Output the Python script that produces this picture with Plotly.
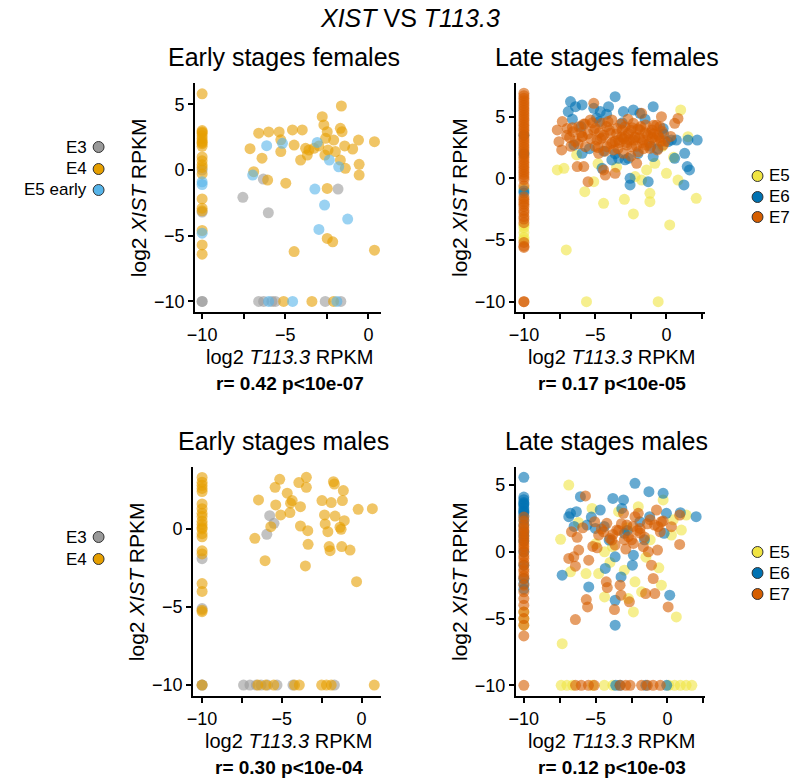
import plotly.graph_objects as go

W, H = 811, 783
FONT = "Liberation Sans, Arial, sans-serif"

COL = {"E3": "#999999", "E4": "#E69F00", "E5 early": "#56B4E9",
       "E5": "#F0E442", "E6": "#0072B2", "E7": "#D55E00"}

# ---------------- Panel 1: Early stages females ----------------
p1_E4_x = [-10, -10, -10, -10, -10, -10, -10, -10, -10, -10, -10, -10, -10, -10, -10, -10, -10,
           -7.12, -6.6, -6.4, -6.9, -6.0, -6.06, -5.37, -5.27, -5.27, -4.97, -4.57, -4.47, -4.47,
           -3.98, -4.08, -3.78, -3.68, -3.58, -3.28, -2.98, -2.78, -2.68, -2.58, -2.62, -2.48,
           -2.43, -2.48, -2.48, -2.15, -2.09, -1.99, -1.69, -1.63, -1.59, -1.69, -1.43, -1.39,
           -0.95, -0.6, -0.56, -0.56, 0.36, 0.36, -5.1, -3.4, -2.1,
           -10, -10, -10, -10]
p1_E4_y = [5.8, 3.0, 2.8, 2.6, 2.4, 2.2, 2.0, 1.8, 1.0, 0.4, 0.2, -0.3, -2.2, -2.9, -3.1, -5.7, -6.4,
           1.62, 2.8, 0.9, -0.13, 2.9, -0.76, 2.9, 2.3, 1.4, -1.0, 3.05, 1.9, -6.2,
           3.05, 0.76, 1.65, 1.14, 1.52, 1.65, 1.83, 4.06, 3.43, 2.41, 1.14, 2.92,
           1.52, -1.4, -5.2, -5.46, 2.28, 1.4, 3.17, 4.87, 2.92, 0.76, 1.83, 0.13,
           1.6, 2.28, 0.43, -0.38, 2.16, -6.1, -10, -10, -10,
           -4.6, 2.9, 2.1, 0.7]

p1_E3_x = [-10, -10, -10, -10, -7.55, -6.32, -6.02, -1.83, -6.6, -6.3, -5.8, -5.6, -2.6, -1.66]
p1_E3_y = [0.0, -3.2, -10, -10, -2.08, -0.69, -3.25, -1.45, -10, -10, -10, -10, -10, -10]

p1_E5e_x = [-10, -10, -10, -6.96, -6.12, -5.17, -3.08, -3.22, -2.64, -2.35, -1.79, -1.25, -2.98,
            -6.0, -4.56, -1.9]
p1_E5e_y = [-0.9, -1.1, -4.8, -0.38, 1.85, 2.03, 2.1, -1.45, -2.67, 0.76, 0.25, -3.73, -4.52,
            -10, -10, -10]

# ---------------- Panel 2: Late stages females ----------------
p2_E5_x = [-7.66, -7.19, -7.03, -5.73, -5.1, -4.41, -2.95, -2.32, -1.74, -1.39, -1.16, -1.16,
           -0.81, 0.0, 0.23, 0.81, 1.0, 2.09, 1.51, -5.61, -0.58, -2.2, -6.3, -4.8, -3.5,
           -0.3, 0.5,
           -10, -10, -10, -10, -10, -10]
p2_E5_y = [0.68, 0.81, -5.81, -1.08, -0.27, -2.03, -1.7, -2.89, -0.14, 0.68, -1.22, -1.89,
           1.22, 0.41, -3.78, -0.14, 5.54, -1.62, 3.38, -10, -10, 0.14, 1.9, 1.2, 0.9,
           2.6, 1.7,
           -3.8, -4.0, -4.4, -4.8, -5.0, -0.8]

p2_E6_x = [-6.73, -6.89, -6.38, -5.92, -5.1, -4.64, -4.06, -3.6, -3.02, -2.32, -1.86, -0.93,
           -6.5, -5.92, -4.52, -3.36, -2.67, -2.55, -2.55, -1.28, -0.93, -0.23, 0.12, 0.35,
           0.7, 0.58, 1.28, 1.51, 1.46, 1.62, 1.23, 2.16, -3.83, -4.9, -4.2, -3.1, -1.5,
           -0.2, -6.0, -6.6, -5.4, -4.4, -2.9, -2.0, -1.1, -0.6, -3.6, -4.7,
           -10, -10, -10, -10]
p2_E6_y = [6.22, 5.41, 5.81, 5.95, 5.68, 5.41, 5.81, 6.62, 5.41, 5.54, 5.27, 5.81,
           2.7, 2.03, 0.81, 1.62, 1.62, 0.0, -0.54, -0.27, 1.76, 4.05, 2.97, 3.1,
           3.1, 1.62, 2.03, 3.1, 0.95, 0.68, -0.54, 3.1, 1.49, 4.9, 5.2, 4.5, 4.8,
           3.6, 4.2, 4.8, 2.4, 2.2, 1.5, 2.0, 2.6, 2.4, 2.0, 4.6,
           3.5, 2.0, -1.0, -1.2]

p2_E7_x = [-7.66, -7.31, -7.54, -7.35, -6.96, -6.57, -6.15, -5.92, -5.8, -5.68, -5.5, -5.34,
           -5.1, -4.99, -4.87, -4.76, -4.52, -4.41, -4.29, -4.18, -3.94, -3.83, -3.71, -3.6,
           -3.48, -3.36, -3.13, -3.02, -2.9, -2.78, -2.67, -2.44, -2.32, -2.2, -2.09, -1.97,
           -1.86, -1.74, -1.62, -1.46, -1.32, -1.16, -1.0, -0.81, -0.63, -0.46, -0.35, -0.23,
           0.58, 0.81, -6.26, -6.8, -6.2, -5.5, -5.0, -4.6, -4.0, -3.3, -2.6, -2.0, -1.4,
           -0.9, -0.5, -5.8, -4.4, -3.9, -2.9, -2.4, -1.7, -1.1, -0.7, -0.1,
           -7.0, -6.6, -6.4, -6.0, -5.7, -5.3, -5.1, -4.8, -4.5, -4.2, -3.8, -3.5, -3.2,
           -3.0, -2.8, -2.5, -2.3, -2.1, -1.8, -1.5, -1.2, -0.9, -0.6, -0.3, -6.7, -5.9,
           -5.2, -4.7, -4.1, -3.6, -3.1, -2.7, -2.2, -1.6, -1.0, -0.4, 0.3, -4.3, -3.4,
           -2.5, -1.9,
           -10, -10, -10, -10, -10, -10, -10, -10, -10, -10, -10, -10, -10, -10, -10, -10,
           -10, -10, -10, -10, -10, -10, -10, -10, -10, -10, -10, -10, -10, -10, -10, -10,
           -10, -10, -10, -10, -10, -10, -10, -10, -10, -10, -10, -10, -10, -10, -10, -10,
           -10, -10, -10, -10, -10]
p2_E7_y = [3.92, 4.6, 2.97, 2.3, 4.05, 3.78, 4.19, 3.38, 0.95, 2.57, -0.27, 4.73,
           6.08, 4.05, 3.1, 2.03, 4.46, 0.68, 0.27, 2.57, 3.65, 4.73, 2.3, 0.41,
           4.05, 3.1, 3.38, 2.03, 4.19, 2.7, 3.65, 2.57, 4.46, 3.38, 1.22, 2.16,
           3.92, 5.27, 3.1, 4.32, 3.51, 2.43, 3.92, 3.1, 2.3, 4.19, 5.0, 2.7,
           4.46, 4.86, 0.95, 3.3, 2.8, 3.6, 2.6, 3.2, 3.9, 2.9, 3.1, 4.0, 2.7,
           3.6, 3.3, 4.4, 3.5, 2.8, 3.4, 4.1, 2.9, 3.7, 4.3, 3.0,
           3.5, 4.1, 3.0, 3.7, 4.4, 3.2, 3.9, 2.5, 3.3, 4.2, 2.9, 3.6, 4.4,
           3.2, 2.9, 3.9, 3.1, 2.6, 4.2, 3.7, 2.9, 4.3, 3.5, 3.8, 2.6, 3.4,
           4.5, 3.7, 4.6, 3.0, 3.9, 4.8, 3.3, 2.4, 3.3, 3.0, 3.4, 2.2, 2.4,
           1.8, 3.3,
           6.9, 6.7, 6.5, 6.3, 6.1, 5.9, 5.7, 5.5, 5.3, 5.1, 4.9, 4.7, 4.5, 4.3, 4.1, 3.9,
           3.7, 3.5, 3.3, 3.1, 2.9, 2.7, 2.5, 2.3, 2.1, 1.9, 1.7, 1.5, 1.3, 1.1, 0.9, 0.7,
           0.5, 0.3, 0.1, -0.1, -0.6, -1.5, -1.7, -1.9, -2.1, -2.3, -2.6, -2.8, -3.1, -3.3,
           -3.6, -5.2, -5.5, -5.6, -10, -10]

# ---------------- Panel 3: Early stages males ----------------
p3_E4_x = [-5.13, -5.42, -6.46, -4.66, -5.38, -4.45, -4.35, -5.07, -4.49, -3.83, -3.93, -3.46,
           -3.46, -3.83, -3.37, -3.35, -3.52, -6.05, -6.69, -5.69, -2.48, -2.32, -2.28, -2.11,
           -2.03, -1.97, -1.9, -1.76, -1.7, -1.66, -1.35, -1.24, -1.14, -1.2, -1.08, -1.28,
           -0.72, -0.21, -0.31, 0.68,
           -6.5, -6.0, -5.5, -4.2, -3.9, -2.5, -2.2, -1.9, 0.8,
           -10, -10, -10, -10, -10, -10, -10, -10, -10, -10, -10, -10, -10, -10, -10, -10,
           -10, -10, -10, -10, -10, -10]
p3_E4_y = [3.18, 2.67, 1.86, 2.29, 1.54, 1.65, 1.82, 0.9, 1.05, 1.43, 2.97, 3.31,
           2.67, 0.19, -0.11, -0.98, -2.37, -2.03, -0.6, 0.15, 1.82, 0.9, 0.32, -0.17,
           -1.13, -1.39, 1.69, 3.03, 2.88, 0.83, 0.11, -1.13, 2.46, 1.82, 0.53, -0.02,
           -1.35, 1.26, -3.38, 1.3,
           -10, -10, -10, -10, -10, -10, -10, -10, -10,
           3.3, 3.0, 2.6, 2.4, 1.3, 1.0, 0.8, 0.5, 0.3, 0.1, -0.3, -0.5, -1.4, -1.6, -3.5,
           -4.0, -5.2, -5.3, -10, 2.8, 0.0, 1.6]

p3_E3_x = [-5.76, -5.49, -5.94, -10, -10, -10, -10, -7.4, -7.0, -6.6, -6.3, -5.9, -5.3, -4.3,
           -1.7]
p3_E3_y = [0.85, 0.36, -0.34, -1.9, -5.1, -10, -10, -10, -10, -10, -10, -10, -10, -10, -10]

# ---------------- Panel 4: Late stages males ----------------
p4_E5_x = [-6.87, -7.44, -7.33, -6.75, -5.67, -5.25, -4.79, -4.38, -4.38, -3.0, -2.72, -2.37,
           -2.26, -2.03, -1.8, -0.42, -0.3, 0.28, 0.62, 0.97, 1.31, -3.83, -6.2, -5.0, -3.4,
           -2.8, -1.2, -0.6, 0.4, -4.0, -1.5,
           -10, -10, -10,
           -7.4, -7.0, -6.6, -5.2, -4.4, -3.8, 0.1, 0.5, 0.9, 1.3, 1.7]
p4_E5_y = [5.0, 0.93, -6.88, -1.5, -1.63, 3.25, -1.63, -3.38, 0.0, -1.38, -3.5, -4.5,
           -2.25, 3.38, -3.0, -2.5, 3.88, 1.25, -4.88, 1.63, 2.75, 0.38, 2.2, 0.6, 3.0,
           1.8, 0.9, -1.2, 2.4, -0.8, -0.4,
           -4.5, -5.0, -5.5,
           -10, -10, -10, -10, -10, -10, -10, -10, -10, -10, -10]

p4_E6_x = [-6.87, -6.75, -6.34, -6.06, -7.33, -5.6, -5.48, -4.33, -3.8, -3.64, -3.23, -3.06,
           -3.18, -2.26, -2.44, -1.29, -0.3, -0.23, -0.07, 0.16, 0.9, 2.0, -3.64, -4.68,
           -5.02, -4.06, -3.0, -2.37, -3.64, -1.92, -1.24, -6.5, -5.3, -4.4, -2.8, -1.6,
           -10, -10, -10, -10, -10, -10, -10, -10, -10, -10, -10, -10, -10, -10, -10, -10,
           -10, -10, -10, -10, -10,
           -3.6, -3.3, -1.5, -0.05]
p4_E6_y = [2.63, 2.88, 3.0, 4.13, -1.75, 2.0, -2.63, -1.25, 4.0, -5.5, -1.88, 3.88,
           3.25, 5.13, -1.0, 4.5, 4.38, 1.38, 2.88, -3.25, 2.93, 2.63, -3.63, 3.13,
           1.75, 0.88, 1.38, -0.25, -0.38, 2.25, 2.63, 1.9, 2.6, 1.9, 1.6, 0.9,
           5.58, 4.1, 3.9, 3.7, 3.5, 3.3, 3.1, 2.9, 2.7, 2.4, 2.0, 1.5, 0.8, 0.0, -1.0, -2.0,
           -2.4, -2.8, 3.0, 3.6, 1.2,
           -10, -10, -10, -10]

p4_E7_x = [-5.71, -6.68, -6.29, -6.87, -6.52, -6.41, -6.18, -5.48, -5.65, -5.56, -6.41, -5.07,
           -4.79, -4.45, -4.26, -4.19, -4.22, -3.87, -3.64, -3.69, -3.53, -3.3, -3.23, -3.06,
           -2.83, -2.72, -2.65, -2.37, -2.26, -2.03, -1.91, -1.68, -1.52, -1.33, -1.11, -0.99,
           -0.88, -0.76, -0.69, -0.65, -0.42, 0.05, 0.28, 0.85, 0.85, -4.0, -3.2, -2.5,
           -1.9, -1.2, -5.9, -4.9, -3.4, -2.9, -1.6, -0.9, -4.6, -3.8, -2.4, -1.4, -0.5,
           -5.2, -3.0, -2.1, -0.3,
           -10, -10, -10, -10, -10, -10, -10, -10, -10, -10, -10, -10, -10, -10, -10, -10,
           -10, -10, -10, -10, -10, -10, -10, -10, -10, -10, -10, -10, -10, -10,
           -6.4, -6.0, -5.5, -5.1, -3.3, -2.9, -2.6, -1.8, -1.4, -1.0, -0.5]
p4_E7_y = [4.18, 1.5, 1.08, -0.5, -0.38, -1.08, 0.13, -0.63, -3.58, -4.13, -5.08, 2.25,
           1.25, 1.5, -2.25, -2.68, 2.13, 0.88, 0.5, -4.33, 1.63, -2.5, -3.25, 2.88,
           2.0, 1.13, -3.75, 0.63, 2.63, 2.88, 1.75, 0.38, -3.13, 0.0, -1.0, -2.0,
           -3.13, 3.13, 0.13, 1.88, 2.25, -4.13, 1.88, 2.75, 0.55, 1.0, 2.1, 0.9,
           1.4, 2.4, 1.8, 0.3, 1.6, 0.2, 1.1, 2.0, 1.7, 1.3, 1.9, 2.1, 1.5,
           0.4, 0.9, 1.6, 2.3,
           2.6, 2.3, 2.0, 1.8, 1.6, 1.4, 1.2, 1.0, 0.8, 0.6, 0.4, 0.2, 0.0, -0.3, -0.5, -0.8,
           -1.0, -1.3, -1.5, -1.8, -2.0, -2.5, -3.0, -3.5, -4.0, -4.5, -5.0, -5.5, -6.3, -10,
           -10, -10, -10, -10, -10, -10, -10, -10, -10, -10, -10]

# ---------------- Texts ----------------
main_title = "<i>XIST</i> VS <i>T113.3</i>"
panel_titles = ["Early stages females", "Late stages females",
                "Early stages males", "Late stages males"]
stats = ["r= 0.42 p<10e-07", "r= 0.17 p<10e-05", "r= 0.30 p<10e-04", "r= 0.12 p<10e-03"]
x_title = "log2 <i>T113.3</i> RPKM"
y_title = "log2 <i>XIST</i> RPKM"
tick_vals = [-10, -7.5, -5, -2.5, 0, 2.5]
tick_text = ["\u221210", "", "\u22125", "", "0", ""]
ytick_vals = [-10, -5, 0, 5]
ytick_text = ["\u221210", "\u22125", "0", "5"]

# ---------------- Layout geometry (pixels) ----------------
panels = [
    dict(x0=189, x1=377, y0=83, y1=312, xr=[-10.42, 0.77], yr=[-10.8, 6.62]),
    dict(x0=513, x1=704, y0=83, y1=312, xr=[-10.56, 2.71], yr=[-10.84, 7.73]),
    dict(x0=187, x1=377, y0=467, y1=696, xr=[-10.56, 1.24], yr=[-10.7, 3.97]),
    dict(x0=513, x1=704, y0=467, y1=696, xr=[-10.55, 2.62], yr=[-10.8, 6.35]),
]

series = [
    [("E3", p1_E3_x, p1_E3_y), ("E4", p1_E4_x, p1_E4_y), ("E5 early", p1_E5e_x, p1_E5e_y)],
    [("E5", p2_E5_x, p2_E5_y), ("E6", p2_E6_x, p2_E6_y), ("E7", p2_E7_x, p2_E7_y)],
    [("E3", p3_E3_x, p3_E3_y), ("E4", p3_E4_x, p3_E4_y)],
    [("E5", p4_E5_x, p4_E5_y), ("E6", p4_E6_x, p4_E6_y), ("E7", p4_E7_x, p4_E7_y)],
]

def px(x):
    return x / W

def py(y):
    return 1 - y / H

fig = go.Figure()
layout = dict(width=W, height=H, margin=dict(l=0, r=0, t=0, b=0),
              paper_bgcolor="white", plot_bgcolor="white", showlegend=False,
              font=dict(family=FONT, color="black"))
annotations = []
shapes = []

for i, (p, ser) in enumerate(zip(panels, series)):
    n = "" if i == 0 else str(i + 1)
    xa, ya = "x" + n, "y" + n
    for name, xs, ys in ser:
        fig.add_trace(go.Scatter(x=xs, y=ys, mode="markers", name=name, xaxis=xa, yaxis=ya,
                                 cliponaxis=False,
                                 marker=dict(size=11, color=COL[name], opacity=0.6,
                                             line=dict(width=0))))
    common = dict(showgrid=False, zeroline=False, showline=True, linecolor="black",
                  linewidth=2, ticks="outside", ticklen=5, tickwidth=2, tickcolor="black",
                  tickfont=dict(size=18, family=FONT, color="black"), mirror=False)
    layout["xaxis" + n] = dict(domain=[px(p["x0"]), px(p["x1"])], range=p["xr"],
                               anchor=ya, tickmode="array", tickvals=tick_vals,
                               ticktext=tick_text, **common)
    layout["yaxis" + n] = dict(domain=[py(p["y1"]), py(p["y0"])], range=p["yr"],
                               anchor=xa, tickmode="array", tickvals=ytick_vals,
                               ticktext=ytick_text, **common)
    cx = (p["x0"] + p["x1"]) / 2
    annotations.append(dict(text=panel_titles[i], x=px(cx - 4), y=py(p["y0"] - 26),
                            xref="paper", yref="paper", showarrow=False,
                            font=dict(size=25, family=FONT), xanchor="center", yanchor="middle"))
    annotations.append(dict(text=x_title, x=px(cx + 2), y=py(p["y1"] + 45),
                            xref="paper", yref="paper", showarrow=False,
                            font=dict(size=20, family=FONT), xanchor="center", yanchor="middle"))
    annotations.append(dict(text="<b>" + stats[i] + "</b>", x=px(cx + 2), y=py(p["y1"] + 71),
                            xref="paper", yref="paper", showarrow=False,
                            font=dict(size=19, family=FONT), xanchor="center", yanchor="middle"))
    annotations.append(dict(text=y_title, x=px(p["x0"] - 57), y=py((p["y0"] + p["y1"]) / 2),
                            xref="paper", yref="paper", showarrow=False, textangle=-90,
                            font=dict(size=21, family=FONT), xanchor="center", yanchor="middle"))

annotations.append(dict(text=main_title, x=px(406), y=py(18), xref="paper", yref="paper",
                        showarrow=False, font=dict(size=25, family=FONT),
                        xanchor="center", yanchor="middle"))

# legends: left (text then marker), right (marker then text)
def add_left_legend(names, ys):
    for nm, yy in zip(names, ys):
        annotations.append(dict(text=nm, x=px(82), y=py(yy), xref="paper", yref="paper",
                                showarrow=False, font=dict(size=17, family=FONT),
                                xanchor="right", yanchor="middle"))
        shapes.append(dict(type="circle", xref="paper", yref="paper",
                           x0=px(86), x1=px(97), y0=py(yy + 5.5), y1=py(yy - 5.5),
                           fillcolor=COL[nm], line=dict(color="#333333", width=1)))

def add_right_legend(names, ys):
    for nm, yy in zip(names, ys):
        annotations.append(dict(text=nm, x=px(767), y=py(yy), xref="paper", yref="paper",
                                showarrow=False, font=dict(size=17, family=FONT),
                                xanchor="left", yanchor="middle"))
        shapes.append(dict(type="circle", xref="paper", yref="paper",
                           x0=px(751.5), x1=px(762.5), y0=py(yy + 5.5), y1=py(yy - 5.5),
                           fillcolor=COL[nm], line=dict(color="#333333", width=1)))

add_left_legend(["E3", "E4", "E5 early"], [147, 169, 190])
add_right_legend(["E5", "E6", "E7"], [176, 197, 217])
add_left_legend(["E3", "E4"], [537, 559])
add_right_legend(["E5", "E6", "E7"], [552, 573, 594])

layout["annotations"] = annotations
layout["shapes"] = shapes
fig.update_layout(**layout)
fig.write_html("out.html")
